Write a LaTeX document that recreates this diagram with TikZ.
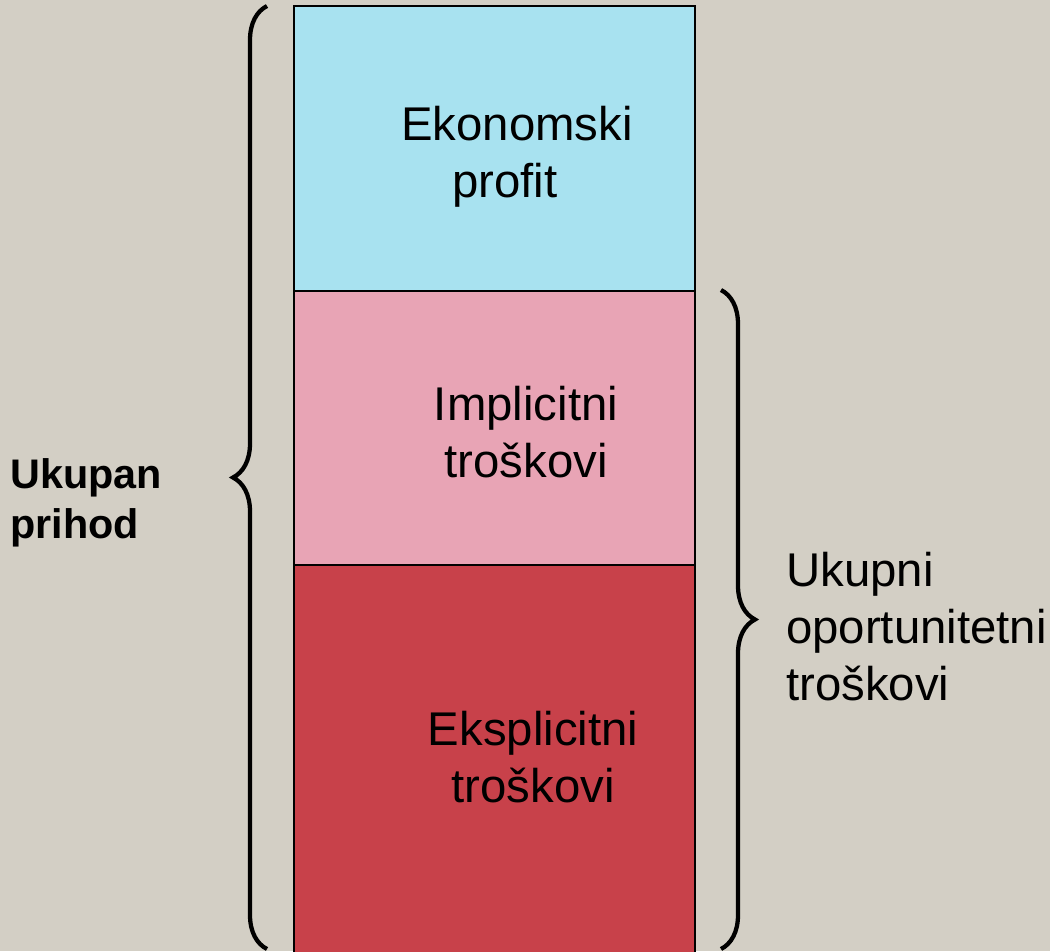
\documentclass[tikz,border=0pt]{standalone}
\usepackage{fontspec}
\setmainfont{Liberation Sans}
\usetikzlibrary{decorations.pathreplacing}
\definecolor{bgbeige}{HTML}{D3CFC5}
\definecolor{profitblue}{HTML}{A8E2F0}
\definecolor{implpink}{HTML}{E8A4B5}
\definecolor{explred}{HTML}{C8414A}
\tikzset{
  part/.style={draw=black, line width=1.6pt},
  label/.style={font=\fontsize{35.5}{42.75}\selectfont, align=center, inner sep=0pt},
  bracemark/.style={decorate, decoration={brace, amplitude=25.5pt}, line width=3.2pt}
}
\begin{document}
\begin{tikzpicture}[x=0.75pt, y=-0.75pt]
        \fill[bgbeige] (0,0) rectangle (1050,951);
        \useasboundingbox (0,0) rectangle (1050,951);

        % column of three parts
        \draw[part, fill=profitblue] (294,6) rectangle (695,291);
        \draw[part, fill=implpink] (294,291) rectangle (695,565);
        \draw[part, fill=explred] (294,565) rectangle (695,960);

        \node[label] (profit) at (517,157) {Ekonomski\\profit\hspace*{18pt}};
        \node[label] (impl) at (526,432) {Implicitni\\ troškovi};
        \node[label] (expl) at (533,757) {Eksplicitni\\ troškovi};

        % braces
        \coordinate (ltop) at (267,6);
        \coordinate (lbot) at (267,949);
        \coordinate (rtop) at (721,290);
        \coordinate (rbot) at (721,949);
        \draw[bracemark] (lbot) -- (ltop);
        \draw[bracemark] (rtop) -- (rbot);

        \node[label, font=\fontsize{31}{37.5}\selectfont\bfseries, align=left, anchor=west] (prihod) at (10,503) {Ukupan\\prihod};
        \node[label, align=left, anchor=west] (trosak) at (786,627) {Ukupni\\oportunitetni\\troškovi};
    \end{tikzpicture}
\end{document}
